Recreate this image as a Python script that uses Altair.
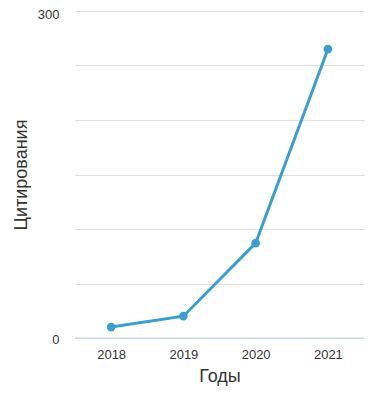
import altair as alt
import pandas as pd

years = ["2018", "2019", "2020", "2021"]
citations = [10, 20, 87, 265]

df = pd.DataFrame({"year": years, "cit": citations})

base = alt.Chart(df).encode(
    x=alt.X("year:O", title="Годы", sort=years,
            scale=alt.Scale(type="point", padding=0.5),
            axis=alt.Axis(labelAngle=0, ticks=False, domain=False, grid=False,
                          labelFontSize=13, labelColor="#333333", labelPadding=10,
                          titleFontSize=18, titleFontWeight="normal", titleColor="#333333",
                          titlePadding=6, labelFont="Liberation Sans", titleFont="Liberation Sans")),
    y=alt.Y("cit:Q", title="Цитирования",
            scale=alt.Scale(domain=[0, 300], nice=False),
            axis=alt.Axis(values=[0, 50, 100, 150, 200, 250, 300], ticks=False, domain=False,
                          labelExpr="datum.value == 0 || datum.value == 300 ? datum.label : ''",
                          labelBaseline={"condition": {"test": "datum.value == 300", "value": "top"}, "value": "middle"},
                          labelOffset={"condition": {"test": "datum.value == 300", "value": -3}, "value": 1},
                          gridColor="#dddddd", labelFontSize=13, labelColor="#333333",
                          labelPadding=16, titleFontSize=18, titleFontWeight="normal",
                          titleColor="#333333", titlePadding=7,
                          labelFont="Liberation Sans", titleFont="Liberation Sans")),
)

zero = alt.Chart(pd.DataFrame({"z": [0]})).mark_rule(color="#c6d6ea", strokeWidth=1).encode(y="z:Q")

line = base.mark_line(color="#3a9fd0", strokeWidth=3)
pts = base.mark_circle(color="#3a9fd0", size=75, opacity=1)

chart = alt.layer(zero, line, pts).properties(
    width=289, height=327,
    autosize=alt.AutoSizeParams(type="none"),
    padding={"left": 67, "top": 3, "right": 10, "bottom": 50},
).configure_view(stroke=None)

chart.save("out.html", embed_options={"renderer": "svg", "actions": False})
